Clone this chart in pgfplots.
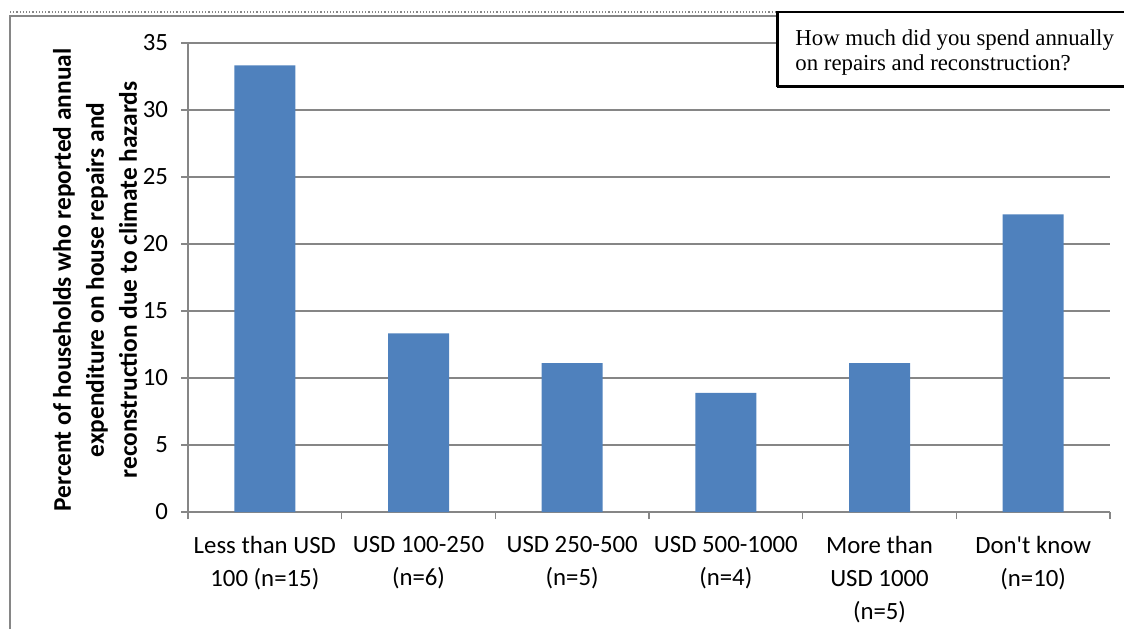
\documentclass[border=0pt]{standalone}
\usepackage{fontspec}
\setmainfont{Carlito}
\newfontfamily\boxfont{Liberation Serif}
\usepackage{pgfplots}
\pgfplotsset{compat=1.18}
\definecolor{barblue}{HTML}{4F81BD}
\definecolor{gridgray}{HTML}{868686}
\begin{document}
\begin{tikzpicture}[x=0.5pt,y=-0.5pt]
\useasboundingbox (0,0) rectangle (1124,629);
% outer frame of the chart area
\draw[gridgray, densely dotted, line width=0.6pt] (10,12) -- (1124,12);
\draw[gridgray, line width=0.8pt] (10,629) -- (10,16) -- (1124,16);
\begin{axis}[
  at={(94pt,-256pt)}, anchor=south west,
  scale only axis, width=461pt, height=234.5pt,
  xmin=-0.5, xmax=5.5, ymin=0, ymax=35,
  ytick={0,5,...,35},
  xtick={0,...,5},
  minor xtick={-0.5,0.5,...,5.5},
  xticklabels={{Less than USD\\100 (n=15)},{USD 100-250\\(n=6)},{USD 250-500\\(n=5)},{USD 500-1000\\(n=4)},{More than\\USD 1000\\(n=5)},{Don\textquotesingle t know\\(n=10)}},
  axis lines*=left,
  axis line style={gridgray, line width=0.8pt},
  tick align=outside,
  major tick length=3.5pt, minor tick length=3.5pt,
  major x tick style={draw=none},
  minor x tick style={gridgray, line width=0.8pt},
  ytick style={gridgray, line width=0.8pt},
  ymajorgrids, grid style={gridgray, line width=0.8pt},
  /pgf/number format/assume math mode=true,
  ticklabel style={font=\fontsize{12.4}{16.5}\selectfont, black},
  xticklabel style={align=center, yshift=-5pt},
  yticklabel style={xshift=-3pt},
  clip=false,
]
\addplot[ybar, bar width=30.5pt, fill=barblue, draw=none] coordinates {
  (0,33.33) (1,13.33) (2,11.11) (3,8.89) (4,11.11) (5,22.22)
};
\end{axis}
\node[rotate=90, align=center, font=\bfseries\fontsize{12.7}{16.5}\selectfont] at (95,280)
  {Percent of households who reported annual\\expenditure on house repairs and\\reconstruction due to climate hazards};
% question box with a slight shadow on its left and lower edges
\draw[black, line width=0.8pt, fill=white] (777,12) rectangle (1130,86);
\draw[black, line width=1.3pt] (778,12) -- (778,86.5) -- (1130,86.5);
\node[anchor=north west, align=left, inner sep=0pt, font=\boxfont\fontsize{11.4}{12.8}\selectfont] at (795,29)
  {How much did you spend annually\\on repairs and reconstruction?};
\end{tikzpicture}
\end{document}
